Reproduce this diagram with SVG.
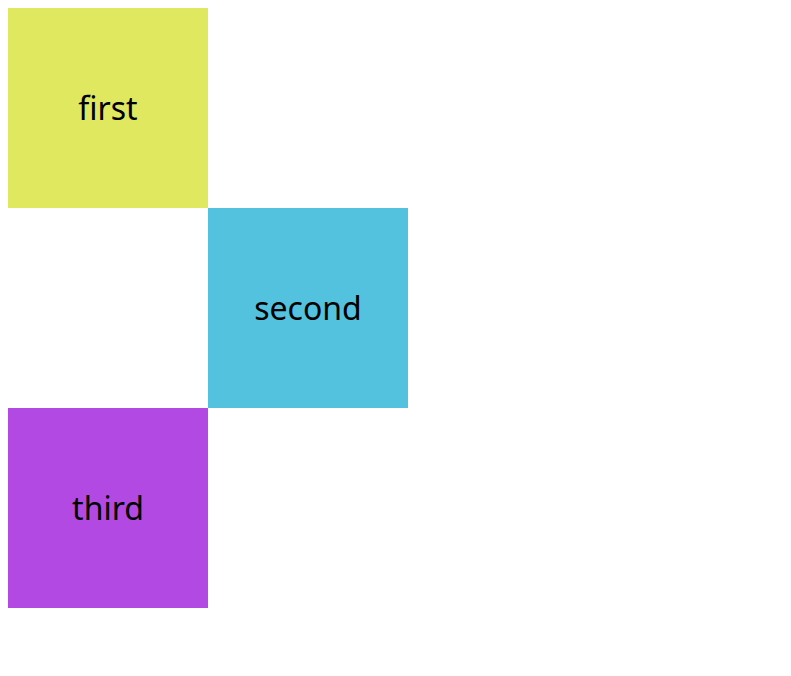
<svg xmlns="http://www.w3.org/2000/svg" width="791" height="676" viewBox="0 0 791 676">
<style>
text{font-family:"Noto Sans","Open Sans","DejaVu Sans",sans-serif;font-size:32px;fill:#000;text-anchor:middle}
</style>
<rect width="791" height="676" fill="#fff"/>
<g id="first"><rect x="8" y="8" width="200" height="200" fill="#dfe85f"/><text x="108" y="120">first</text></g>
<g id="second"><rect x="208" y="208" width="200" height="200" fill="#52c2df"/><text x="308" y="320">second</text></g>
<g id="third"><rect x="8" y="408" width="200" height="200" fill="#b349e3"/><text x="108" y="520">third</text></g>
<g id="connectors"/>
</svg>
